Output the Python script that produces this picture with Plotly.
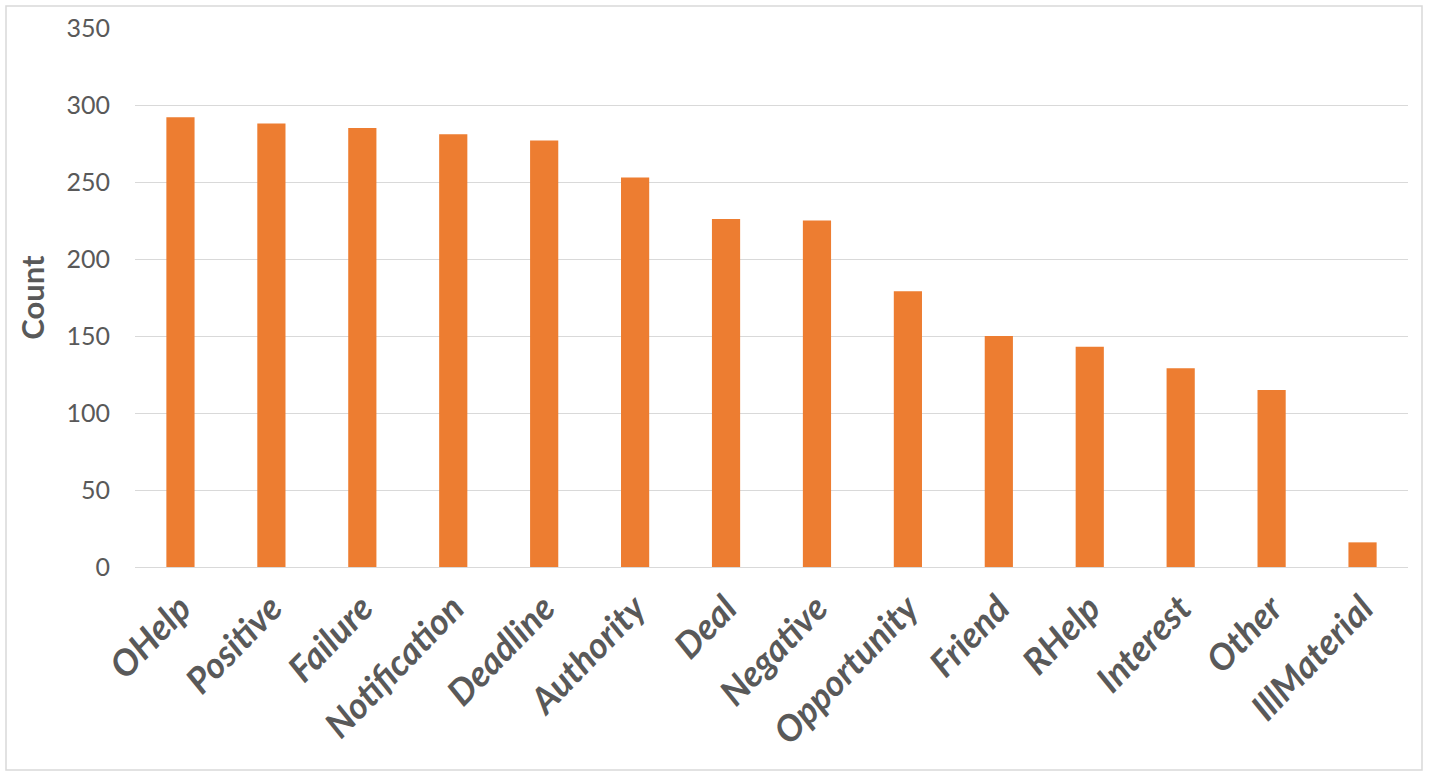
import plotly.graph_objects as go

categories = ["OHelp", "Positive", "Failure", "Notification", "Deadline", "Authority",
              "Deal", "Negative", "Opportunity", "Friend", "RHelp", "Interest", "Other", "IllMaterial"]
counts = [292, 288, 285, 281, 277, 253, 226, 225, 179, 150, 143, 129, 115, 16]
y_ticks = [0, 50, 100, 150, 200, 250, 300, 350]

W, H = 1429, 777
L, R, T, B = 135, 21, 28, 210
pw, ph = W - L - R, H - T - B

fig = go.Figure(go.Bar(x=categories, y=counts, marker=dict(color="#ED7D31", line=dict(width=0))))

fig.update_layout(
    width=W, height=H,
    margin=dict(l=L, r=R, t=T, b=B, autoexpand=False),
    paper_bgcolor="white", plot_bgcolor="white",
    bargap=0.69,
    showlegend=False,
    font=dict(family="Lato, 'Open Sans', sans-serif", color="#595959"),
    xaxis=dict(
        tickangle=-46,
        tickfont=dict(size=36, family="Lato", color="#595959", weight="bold", style="italic"),
        showgrid=False, showline=False, ticks="", ticklabelstandoff=12,
    ),
    yaxis=dict(
        range=[0, 350], tickvals=y_ticks,
        tickfont=dict(size=25, family="Lato", color="#595959"),
        showgrid=True, gridcolor="#d9d9d9", gridwidth=1,
        zeroline=True, zerolinecolor="#d9d9d9", zerolinewidth=1,
        showline=False, ticks="", ticklabelstandoff=24,
        title=dict(text="Count", font=dict(size=31, family="Lato", color="#595959", weight="bold"), standoff=12),
    ),
    shapes=[dict(
        type="rect", xref="paper", yref="paper",
        x0=(6 - L) / pw, x1=(1422 - L) / pw,
        y0=-(770 - (T + ph)) / ph, y1=1 + (T - 6) / ph,
        line=dict(color="#d9d9d9", width=1.5), fillcolor="rgba(0,0,0,0)", layer="below",
    )],
)

fig.write_html("out.html", config={"displayModeBar": False},
               post_script="document.body.style.margin='0';")
